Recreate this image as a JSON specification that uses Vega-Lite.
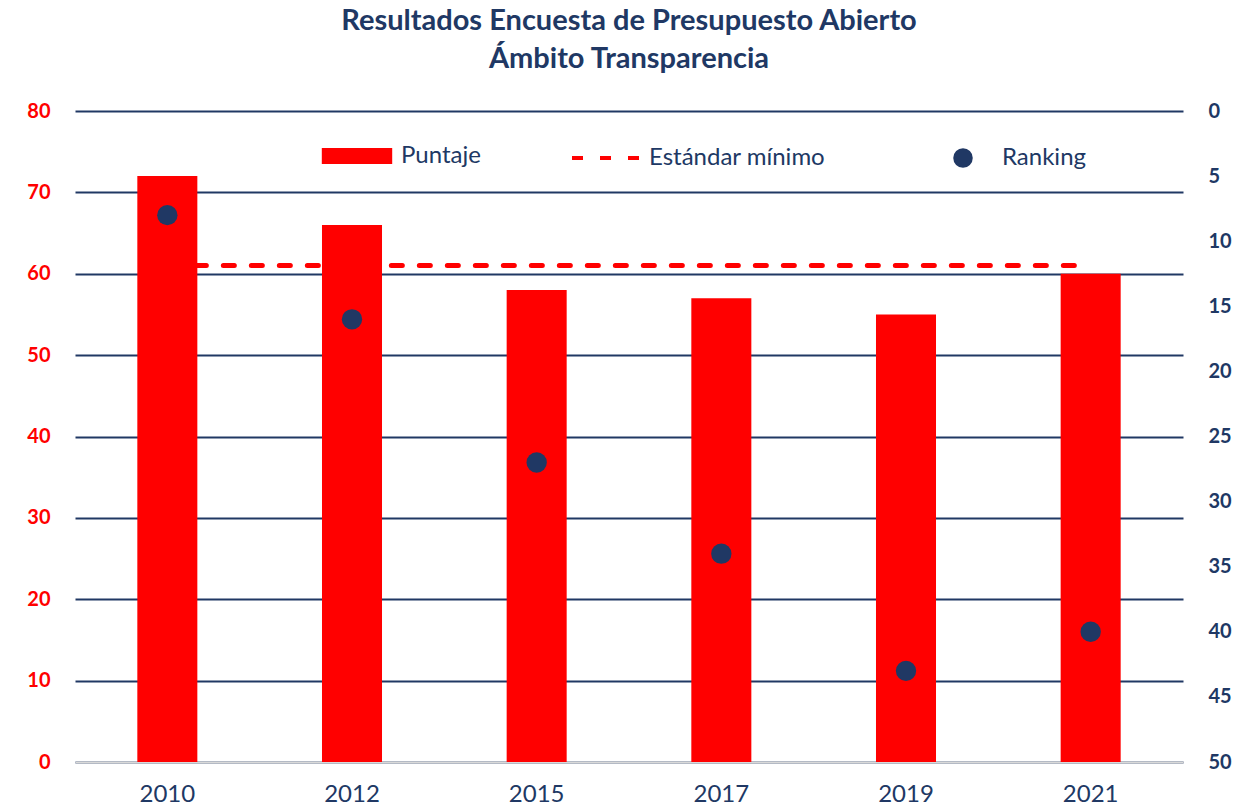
{
  "$schema": "https://vega.github.io/schema/vega-lite/v6.json",
  "width": 1108,
  "height": 651,
  "autosize": {"type": "none"},
  "padding": {"left": 75, "top": 111, "right": 75, "bottom": 46},
  "background": "white",
  "config": {
    "font": "Lato",
    "view": {"stroke": null},
    "axis": {"labelFont": "Lato"},
    "legend": {"labelFont": "Lato", "labelFontSize": 24, "labelColor": "#203864", "orient": "none", "labelLimit": 0}
  },
  "title": {
    "text": ["Resultados Encuesta de Presupuesto Abierto", "Ámbito Transparencia"],
    "fontSize": 29,
    "fontWeight": "bold",
    "color": "#203864",
    "anchor": "middle",
    "lineHeight": 38,
    "offset": 27,
    "font": "Lato"
  },
  "data": {
    "values": [
      {"year": "2010", "puntaje": 72, "estandar": 61, "ranking": 8, "s1": "Puntaje", "s2": "Estándar mínimo", "s3": "Ranking"},
      {"year": "2012", "puntaje": 66, "estandar": 61, "ranking": 16, "s1": "Puntaje", "s2": "Estándar mínimo", "s3": "Ranking"},
      {"year": "2015", "puntaje": 58, "estandar": 61, "ranking": 27, "s1": "Puntaje", "s2": "Estándar mínimo", "s3": "Ranking"},
      {"year": "2017", "puntaje": 57, "estandar": 61, "ranking": 34, "s1": "Puntaje", "s2": "Estándar mínimo", "s3": "Ranking"},
      {"year": "2019", "puntaje": 55, "estandar": 61, "ranking": 43, "s1": "Puntaje", "s2": "Estándar mínimo", "s3": "Ranking"},
      {"year": "2021", "puntaje": 60, "estandar": 61, "ranking": 40, "s1": "Puntaje", "s2": "Estándar mínimo", "s3": "Ranking"}
    ]
  },
  "encoding": {
    "x": {
      "field": "year",
      "type": "ordinal",
      "scale": {"paddingInner": 0.675, "paddingOuter": 0.3375},
      "axis": {
        "title": null,
        "labelAngle": 0,
        "labelFontSize": 24,
        "labelColor": "#203864",
        "labelPadding": 20,
        "ticks": false,
        "domainColor": "#d9d9d9",
        "domainWidth": 2
      }
    }
  },
  "layer": [
    {
      "mark": {"type": "line", "color": "#ff0000", "strokeWidth": 5, "strokeCap": "round"},
      "encoding": {
        "y": {
          "field": "estandar",
          "type": "quantitative",
          "scale": {"domain": [0, 80]},
          "axis": {
            "title": null,
            "tickCount": 8,
            "labelFontSize": 20,
            "labelFontWeight": "bold",
            "labelColor": "#ff0000",
            "labelPadding": 25,
            "ticks": false,
            "domain": false,
            "gridColor": "#203864",
            "gridWidth": 2
          }
        },
        "strokeDash": {
          "field": "s2",
          "type": "nominal",
          "scale": {"range": [[11, 17]]},
          "legend": {
            "title": null,
            "legendX": 495,
            "legendY": 11,
            "symbolType": "stroke",
            "symbolSize": 4624,
            "symbolStrokeWidth": 4,
            "symbolStrokeColor": "#ff0000",
            "symbolDash": [14, 13],
            "labelOffset": 7
          }
        }
      }
    },
    {
      "mark": {"type": "bar", "color": "#ff0000"},
      "encoding": {
        "y": {"field": "puntaje", "type": "quantitative", "scale": {"domain": [0, 80]}, "axis": null},
        "fill": {
          "field": "s1",
          "type": "nominal",
          "scale": {"range": ["#ff0000"]},
          "legend": {
            "title": null,
            "legendX": 266,
            "legendY": 29,
            "symbolType": "M-2.2,-0.5H2.2V0.5H-2.2Z",
            "symbolSize": 1024,
            "symbolStrokeWidth": 0,
            "symbolOpacity": 1,
            "labelOffset": 28
          }
        }
      }
    },
    {
      "mark": {"type": "point", "filled": true, "color": "#203864", "size": 415, "opacity": 1},
      "encoding": {
        "y": {
          "field": "ranking",
          "type": "quantitative",
          "scale": {"domain": [0, 50], "reverse": true},
          "axis": {
            "orient": "right",
            "title": null,
            "tickCount": 10,
            "labelFontSize": 20,
            "labelFontWeight": "bold",
            "labelColor": "#203864",
            "labelPadding": 25,
            "ticks": false,
            "domain": false,
            "grid": false
          }
        },
        "shape": {
          "field": "s3",
          "type": "nominal",
          "scale": {"range": ["circle"]},
          "legend": {
            "title": null,
            "legendX": 876,
            "legendY": 35,
            "symbolSize": 380,
            "symbolFillColor": "#203864",
            "symbolStrokeWidth": 0,
            "symbolOpacity": 1,
            "labelOffset": 27
          }
        }
      }
    }
  ],
  "resolve": {"scale": {"y": "independent"}}
}
